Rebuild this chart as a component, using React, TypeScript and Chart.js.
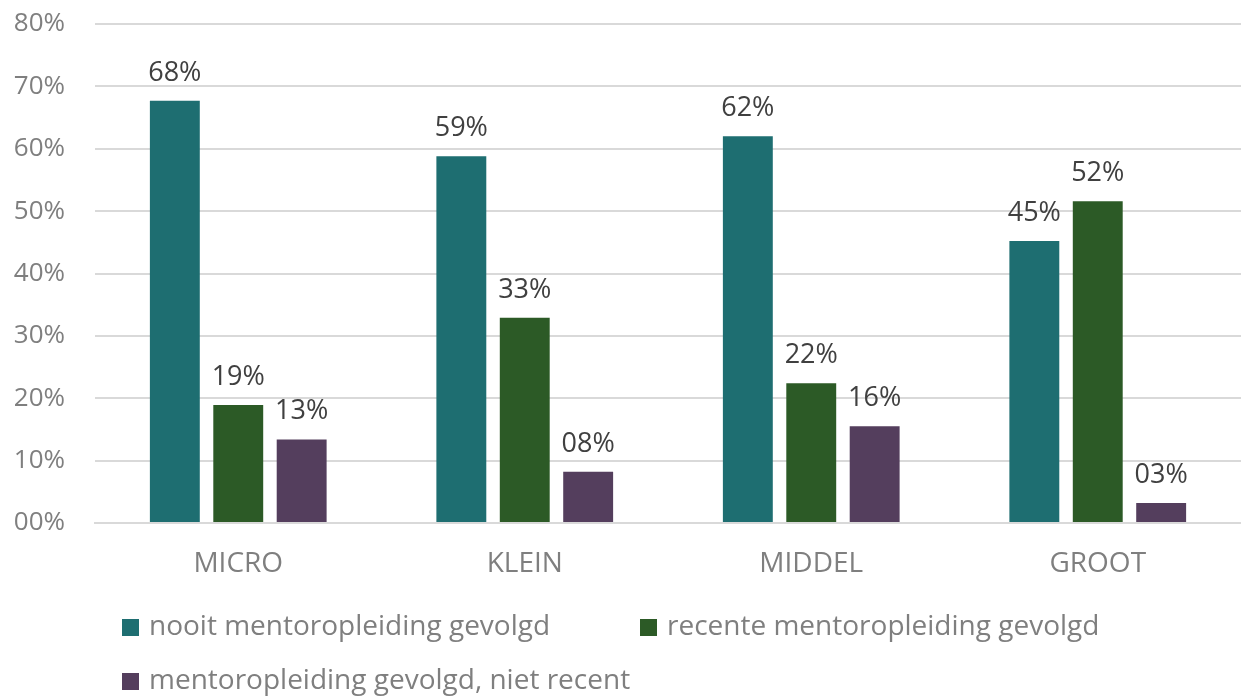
import React, { useEffect, useRef } from "react";
import { Chart, registerables } from "chart.js";

Chart.register(...registerables);

const categories = ["MICRO", "KLEIN", "MIDDEL", "GROOT"];
const seriesNames = [
  "nooit mentoropleiding gevolgd",
  "recente mentoropleiding gevolgd",
  "mentoropleiding gevolgd, niet recent",
];
// shares in percent
const nooit = [67.7, 58.8, 62.0, 45.2];
const recent = [18.9, 32.9, 22.4, 51.6];
const nietRecent = [13.4, 8.2, 15.5, 3.2];
const colors = ["#1e6e71", "#2c5a26", "#543e5d"];
const yMax = 80;
const yStep = 10;

const FONT = "'Open Sans', 'DejaVu Sans', sans-serif";

const pct = (v: number) => {
  const n = Math.round(v);
  return (n < 10 ? "0" : "") + n + "%";
};

const valueLabels = {
  id: "valueLabels",
  afterDatasetsDraw(chart: any) {
    const ctx = chart.ctx;
    ctx.save();
    ctx.font = `27px ${FONT}`;
    ctx.fillStyle = "#404040";
    ctx.textAlign = "center";
    ctx.textBaseline = "alphabetic";
    chart.data.datasets.forEach((ds: any, di: number) => {
      const meta = chart.getDatasetMeta(di);
      meta.data.forEach((bar: any, i: number) => {
        ctx.fillText(pct(ds.data[i]), bar.x, bar.y - 20);
      });
    });
    ctx.restore();
  },
};

const bottomLegend = {
  id: "bottomLegend",
  afterDraw(chart: any) {
    const ctx = chart.ctx;
    const spots = [
      { x: 122, y: 627 },
      { x: 640, y: 627 },
      { x: 122, y: 681 },
    ];
    ctx.save();
    ctx.font = `28px ${FONT}`;
    ctx.textBaseline = "middle";
    ctx.textAlign = "left";
    chart.data.datasets.forEach((ds: any, i: number) => {
      const s = spots[i];
      ctx.fillStyle = ds.backgroundColor;
      ctx.fillRect(s.x, s.y - 8, 17, 17);
      ctx.fillStyle = "#7f7f7f";
      ctx.fillText(ds.label, s.x + 27, s.y);
    });
    ctx.restore();
  },
};

export default function App() {
  const ref = useRef<HTMLCanvasElement>(null);

  useEffect(() => {
    if (!ref.current) return;
    const chart = new Chart(ref.current, {
      type: "bar",
      data: {
        labels: categories,
        datasets: [nooit, recent, nietRecent].map((d, i) => ({
          label: seriesNames[i],
          data: d,
          backgroundColor: colors[i],
          borderWidth: 0,
          categoryPercentage: 0.664,
          barPercentage: 0.787,
        })),
      },
      options: {
        animation: false,
        responsive: false,
        maintainAspectRatio: false,
        layout: { padding: { top: 24, right: 0, bottom: 94, left: 0 } },
        plugins: {
          legend: { display: false },
          tooltip: { enabled: false },
        },
        scales: {
          x: {
            grid: { display: false, drawTicks: false },
            border: { color: "#d9d9d9", width: 2 },
            ticks: {
              color: "#7f7f7f",
              font: { family: FONT, size: 28 },
              padding: 24,
            },
            afterFit(scale: any) {
              scale.height = 80;
            },
          },
          y: {
            min: 0,
            max: yMax,
            grid: { color: "#d9d9d9", lineWidth: 2, drawTicks: false },
            border: { display: false },
            ticks: {
              stepSize: yStep,
              color: "#7f7f7f",
              font: { family: FONT, size: 26 },
              padding: 30,
              callback: (v: any) => pct(Number(v)),
            },
            afterFit(scale: any) {
              scale.width = 95;
              scale.paddingTop = 16;
              scale.paddingBottom = 16;
            },
          },
        },
      },
      plugins: [valueLabels, bottomLegend],
    });
    return () => chart.destroy();
  }, []);

  return (
    <div style={{ position: "fixed", left: 0, top: 0, width: 1241, height: 697, background: "#fff" }}>
      <canvas ref={ref} width={1241} height={697} style={{ display: "block" }} />
    </div>
  );
}
